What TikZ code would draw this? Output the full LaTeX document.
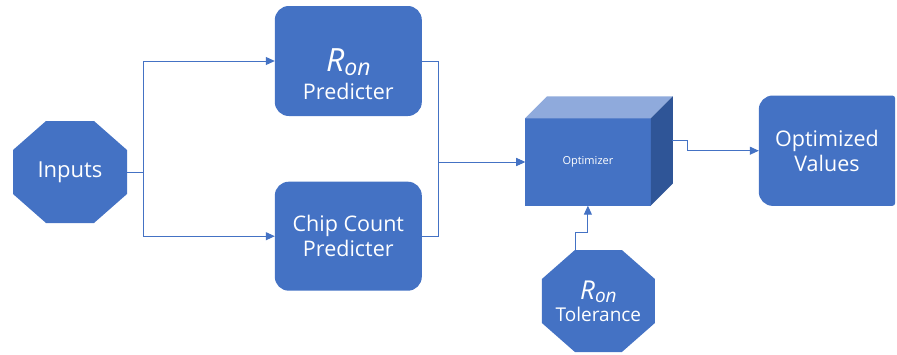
\documentclass[tikz,border=0pt]{standalone}
\usepackage{fontspec}
\setmainfont{Open Sans}
\usepackage{tikz}
\usetikzlibrary{arrows.meta,positioning,backgrounds}
\definecolor{boxblue}{HTML}{4472C4}
\definecolor{topblue}{HTML}{8FAADC}
\definecolor{sideblue}{HTML}{2F5597}
\newcommand{\ronsym}[2]{{\fontsize{#1}{#1}\selectfont\itshape R}\raisebox{-3.5pt}{\fontsize{#2}{#2}\selectfont\itshape on}}

\begin{document}
\begin{tikzpicture}[
  x=1pt,y=-1pt,
  node distance=66pt,
  box/.style={fill=boxblue,text=white,rounded corners=14pt,align=center,minimum width=147pt,minimum height=110pt,inner sep=0pt,outer sep=0pt,font=\fontsize{21.5}{25}\selectfont},
  boxtext/.style={text=white,align=center,inner sep=0pt,font=\fontsize{21.5}{25}\selectfont},
  octa/.style={text=white,align=center,minimum width=114pt,minimum height=102pt,inner sep=0pt,outer sep=0pt,
    path picture={\fill[boxblue]
      ([xshift=33pt]path picture bounding box.north west) -- ([xshift=-33pt]path picture bounding box.north east) --
      ([yshift=-29pt]path picture bounding box.north east) -- ([yshift=29pt]path picture bounding box.south east) --
      ([xshift=-33pt]path picture bounding box.south east) -- ([xshift=33pt]path picture bounding box.south west) --
      ([yshift=29pt]path picture bounding box.south west) -- ([yshift=-29pt]path picture bounding box.north west) -- cycle;}},
  cube/.style={fill=boxblue,text=white,minimum width=125.7pt,minimum height=87.4pt,inner sep=0pt,outer sep=0pt,font=\fontsize{11}{13}\selectfont},
  conn/.style={draw=boxblue,line width=1pt,-{Triangle[length=9pt,width=8pt]}}
]
\useasboundingbox (0,0) rectangle (897,354);
\node[octa,font=\fontsize{22}{26}\selectfont] (inputs) at (70,172) {Inputs};
\node[box] (ron) at (348.3,61) {};
\node[boxtext] (rontext) at (348.3,74.5) {\ronsym{32}{23}\\[3pt]Predicter};
\node[box,below=65.7pt of ron,minimum height=109pt] (chip) {Chip Count\\Predicter};
\node[cube] (opt) at (587.9,162) {Optimizer};
\fill[topblue] (opt.north west) -- ++(22,-22) -- ([shift={(22,-22)}]opt.north east) -- (opt.north east) -- cycle;
\fill[sideblue] (opt.north east) -- ++(22,-22) -- ([shift={(22,-22)}]opt.south east) -- (opt.south east) -- cycle;
\node[boxtext,minimum width=136pt,minimum height=110pt] (val) at (827,150.7) {Optimized\\Values};
\begin{scope}[on background layer]
\fill[boxblue] (val.north east) [rounded corners=14pt] -- (val.north west) -- (val.south west) [rounded corners=3pt] -- (val.south east) -- cycle;
\end{scope}
\node[octa,minimum width=113pt,font=\fontsize{19}{21}\selectfont] (tol) at (598.4,301) {\ronsym{26}{19}\\[1pt]Tolerance};
\draw[conn] (inputs.east) -- ++(16,0) |- (ron.west);
\draw[conn] (inputs.east) -- ++(16,0) |- (chip.west);
\draw[conn] (ron.east) -- ++(16.5,0) |- (opt.west);
\draw[conn] (chip.east) -- ++(16.5,0) |- (opt.west);
\draw[conn] ([shift={(21,-22)}]opt.east) -- ++(16,0) |- (val.west);
\draw[conn] ([xshift=-23.4pt]tol.north) -- ++(0,-17.3) -| (opt.south);
\end{tikzpicture}
\end{document}
